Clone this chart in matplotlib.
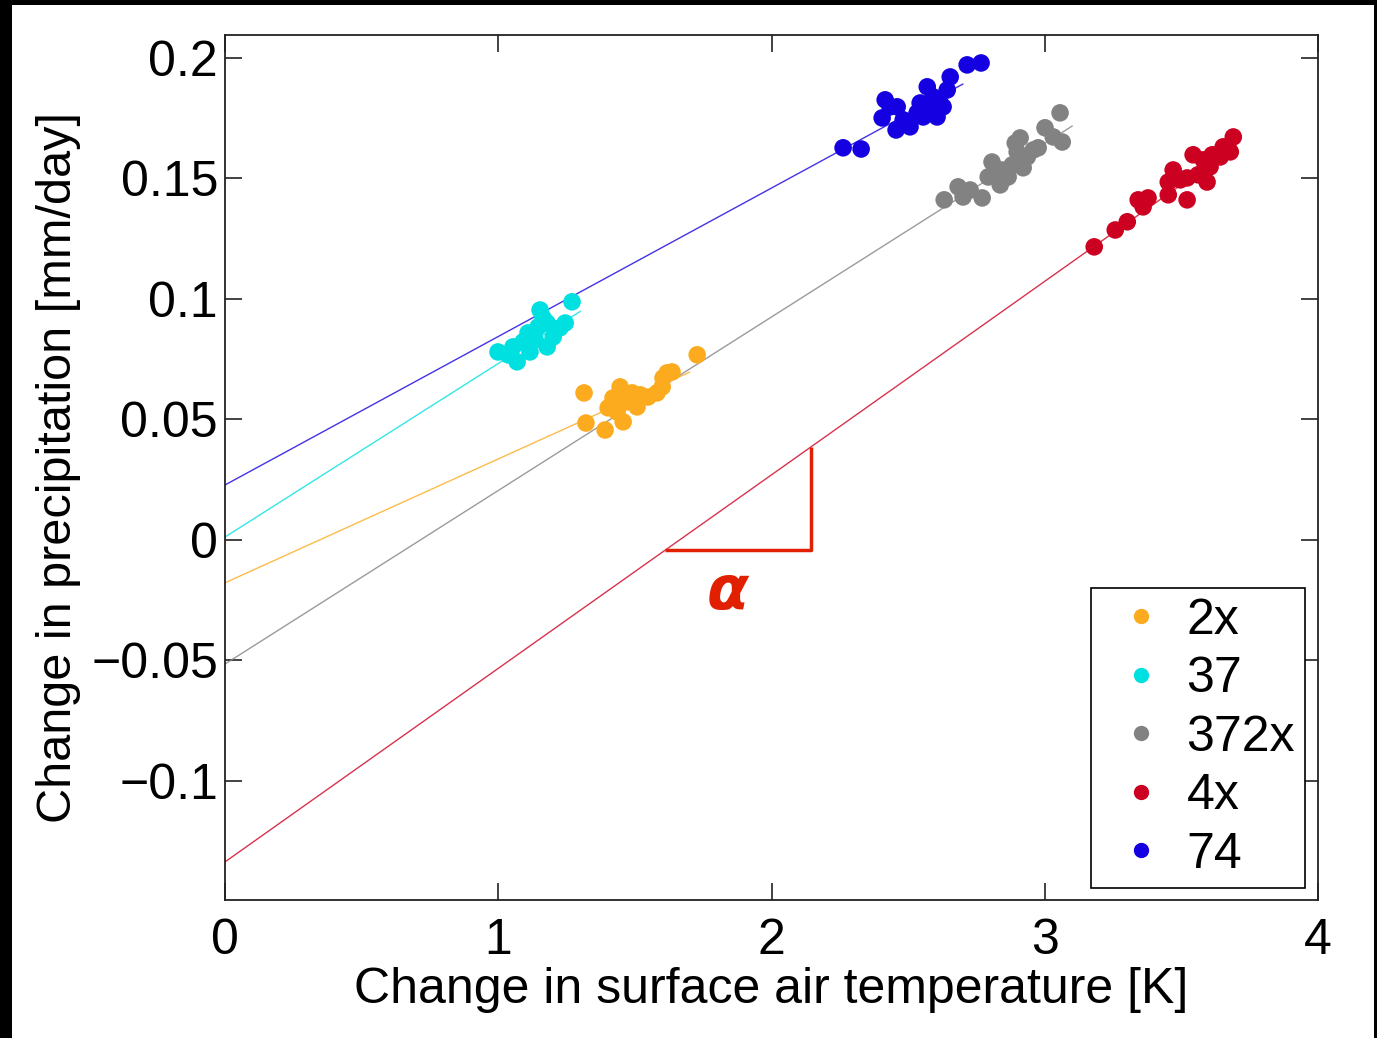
import matplotlib
matplotlib.use("Agg")
import matplotlib.pyplot as plt
from matplotlib.patches import Rectangle
from matplotlib.lines import Line2D

plt.rcParams['font.family'] = ['Liberation Sans', 'DejaVu Sans']

# ---- data -------------------------------------------------------------
labels = ["2x", "37", "372x", "4x", "74"]
colors = ["#fdab1e", "#00e0e0", "#828282", "#cc0020", "#1400e0"]

x_2x = [1.314, 1.321, 1.391, 1.402, 1.446, 1.420, 1.457, 1.471, 1.490, 1.519,
        1.548, 1.581, 1.600, 1.618, 1.636, 1.603, 1.728, 1.508, 1.435]
y_2x = [0.0610, 0.0485, 0.0456, 0.0548, 0.0635, 0.0589, 0.0490, 0.0573, 0.0610, 0.0602,
        0.0593, 0.0610, 0.0635, 0.0693, 0.0697, 0.0672, 0.0768, 0.0552, 0.0531]

x_37 = [0.999, 1.036, 1.069, 1.054, 1.091, 1.109, 1.135, 1.153, 1.146, 1.179,
        1.201, 1.226, 1.245, 1.270, 1.179, 1.116, 1.164]
y_37 = [0.0780, 0.0768, 0.0739, 0.0801, 0.0822, 0.0859, 0.0830, 0.0954, 0.0884, 0.0900,
        0.0842, 0.0880, 0.0900, 0.0988, 0.0801, 0.0780, 0.0921]

x_372x = [2.632, 2.683, 2.701, 2.727, 2.771, 2.807, 2.793, 2.837, 2.844, 2.881, 2.910,
          2.899, 2.936, 2.958, 2.921, 2.976, 3.001, 3.031, 3.064, 3.056, 2.866, 2.892]
y_372x = [0.1411, 0.1465, 0.1423, 0.1452, 0.1419, 0.1568, 0.1506, 0.1473, 0.1535, 0.1556, 0.1668,
          0.1610, 0.1589, 0.1618, 0.1544, 0.1627, 0.1710, 0.1672, 0.1651, 0.1772, 0.1506, 0.1647]

x_4x = [3.181, 3.258, 3.302, 3.342, 3.378, 3.360, 3.452, 3.452, 3.470, 3.521, 3.496,
        3.543, 3.561, 3.594, 3.580, 3.605, 3.642, 3.653, 3.679, 3.690, 3.521, 3.613]
y_4x = [0.1216, 0.1286, 0.1320, 0.1411, 0.1419, 0.1382, 0.1432, 0.1485, 0.1535, 0.1411, 0.1494,
        0.1598, 0.1515, 0.1485, 0.1577, 0.1548, 0.1589, 0.1631, 0.1610, 0.1672, 0.1502, 0.1598]

x_74 = [2.262, 2.328, 2.416, 2.405, 2.460, 2.456, 2.507, 2.482, 2.570, 2.544, 2.580,
        2.592, 2.617, 2.533, 2.643, 2.654, 2.716, 2.767, 2.606, 2.628, 2.555, 2.434]
y_74 = [0.1627, 0.1622, 0.1826, 0.1751, 0.1797, 0.1701, 0.1714, 0.1743, 0.1880, 0.1813, 0.1784,
        0.1838, 0.1813, 0.1772, 0.1867, 0.1921, 0.1971, 0.1979, 0.1755, 0.1797, 0.1755, 0.1797]

# regression fits: intercept, slope, end of fitted line
intercepts = [-0.0178, 0.0012, -0.0515, -0.1336, 0.0228]
slopes = [0.0514, 0.0720, 0.0720, 0.0803, 0.0616]
x_ends = [1.70, 1.30, 3.10, 3.70, 2.70]

xs_all = [x_2x, x_37, x_372x, x_4x, x_74]
ys_all = [y_2x, y_37, y_372x, y_4x, y_74]

# slope triangle on the 4x fit
tri_x0, tri_x1 = 1.61, 2.145

# ---- figure -----------------------------------------------------------
FS = 36
fig = plt.figure(figsize=(13.77, 10.38), dpi=100, facecolor="black")
fig.patches.append(Rectangle((12 / 1377, 0), (1374 - 12) / 1377, (1038 - 5) / 1038,
                             transform=fig.transFigure, facecolor="white",
                             edgecolor="none", zorder=-10))

ax = fig.add_axes([225 / 1377, 1 - 900 / 1038, (1318 - 225) / 1377, (900 - 35) / 1038])
ax.set_facecolor("white")

for b, m, xe, c in zip(intercepts, slopes, x_ends, colors):
    ax.plot([0, xe], [b, b + m * xe], color=c, lw=1.0, alpha=0.8, zorder=2)

for xs, ys, c in zip(xs_all, ys_all, colors):
    ax.scatter(xs, ys, s=160, color=c, edgecolors="none", zorder=3)

# slope triangle
b4, m4 = intercepts[3], slopes[3]
tri_color = "#e02000"
ax.plot([tri_x0, tri_x1, tri_x1], [b4 + m4 * tri_x0, b4 + m4 * tri_x0, b4 + m4 * tri_x1],
        color=tri_color, lw=2.5, solid_capstyle="butt", zorder=4)
ax.text(1.84, -0.0222, r"$\boldsymbol{\alpha}$",
        color=tri_color, fontsize=44, ha="center", va="center", zorder=4)

ax.set_xlim(0, 4)
ax.set_ylim(-0.1494, 0.2095)
ax.set_xticks([0, 1, 2, 3, 4])
ax.set_xticklabels(["0", "1", "2", "3", "4"])
ax.set_yticks([-0.1, -0.05, 0, 0.05, 0.1, 0.15, 0.2])
ax.set_yticklabels(["\u22120.1", "\u22120.05", "0", "0.05", "0.1", "0.15", "0.2"])
ax.tick_params(direction="in", length=12, width=1.3, color="#333333",
               top=True, right=True, labelsize=FS)
ax.tick_params(axis="x", pad=13)
ax.tick_params(axis="y", pad=5)
for sp in ax.spines.values():
    sp.set_linewidth(1.3)
    sp.set_color("#222222")

ax.set_xlabel("Change in surface air temperature [K]", fontsize=FS, labelpad=2)
ax.set_ylabel("Change in precipitation [mm/day]", fontsize=35, labelpad=7)

handles = [Line2D([], [], marker="o", ls="none", color=c, markersize=10) for c in colors]
leg = ax.legend(handles, labels, loc="lower right", fontsize=FS, frameon=True,
                fancybox=False, edgecolor="black", framealpha=1,
                handletextpad=0.1, borderpad=0.2, labelspacing=0.25,
                borderaxespad=0, bbox_to_anchor=(0.988, 0.0139), handlelength=1.6)
leg.get_frame().set_linewidth(1.2)

fig.savefig("out.png", dpi=100, facecolor="black")
